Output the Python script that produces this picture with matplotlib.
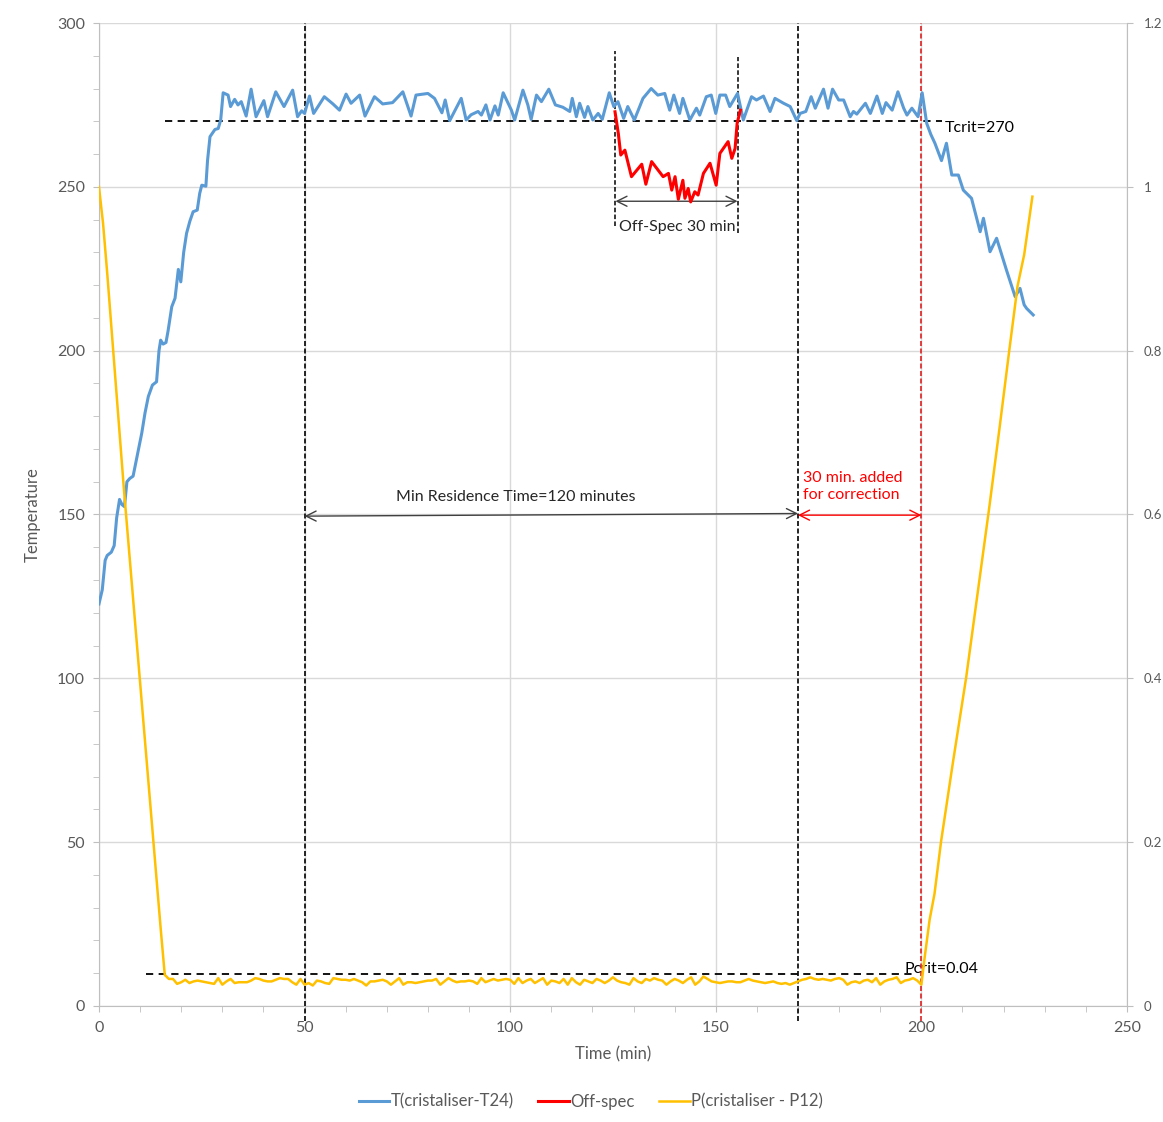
import numpy as np
import matplotlib.pyplot as plt

plt.rcParams['font.family'] = ['Lato', 'DejaVu Sans']

# --- temperature T(cristaliser-T24) (time in min, temp) ---
t_temp = [0, 0.8, 1.5, 2.0, 3.0, 3.7, 4.3, 5.0, 5.6, 6.2, 6.8, 7.5, 8.3, 9.3, 10.4,
          11.2, 12.0, 13.0, 14.0, 14.6, 15.0, 15.6, 16.3, 16.8, 17.7, 18.5, 19.3, 19.9,
          20.6, 21.3, 22.1, 22.9, 23.9, 24.5, 25.0, 26.0, 26.4, 27.0, 28.2, 29.0, 29.6,
          30.2, 31.4, 32.0, 33.0, 33.8, 34.6, 35.8, 37.0, 38.2, 40.1, 41.0, 43.0, 45.0,
          47.1, 48.3, 49.3, 50.0, 51.2, 52.2, 54.8, 56.9, 58.5, 60.1, 61.3, 63.4, 64.7,
          67.0, 69.0, 71.4, 73.9, 75.9, 77.1, 80.0, 81.6, 83.4, 84.2, 85.3, 88.1, 89.3,
          90.5, 92.2, 93.0, 94.1, 95.1, 96.3, 97.1, 98.3, 100.3, 101.1, 103.1, 104.3,
          105.1, 106.4, 107.6, 109.4, 111.0, 112.8, 114.5, 115.1, 116.1, 116.9, 118.1,
          118.9, 120.1, 121.4, 122.4, 124.1, 125.2, 126.2, 127.6, 128.6, 130.2, 132.3,
          134.3, 135.9, 137.6, 138.8, 139.8, 141.2, 142.0, 143.7, 145.3, 146.1, 147.7,
          148.9, 150.0, 151.0, 152.4, 153.4, 155.3, 156.7, 158.7, 159.9, 161.6, 163.2,
          164.4, 166.5, 168.1, 169.7, 170.5, 171.9, 173.2, 174.2, 176.2, 177.3, 178.4,
          179.9, 181.1, 182.7, 183.5, 184.3, 186.4, 187.6, 189.2, 190.5, 191.4, 192.9,
          194.3, 195.7, 196.5, 197.7, 199.2, 200.2, 201.3, 202.3, 203.3, 204.9, 206.1,
          207.4, 209.0, 210.2, 211.4, 212.2, 214.3, 215.1, 216.7, 218.3, 220.7, 222.8,
          224.0, 225.0, 225.6, 227.2]
temp = [122.7, 127, 136, 137.5, 138.5, 140.5, 149, 154.6, 153, 152.4, 160, 161, 161.7,
        168, 174.8, 181, 186, 189.5, 190.5, 200, 203.2, 202, 202.5, 206, 213.4, 216,
        224.8, 221, 230, 235.8, 239.5, 242.4, 242.9, 248, 250.5, 250.2, 258, 265.3,
        267.5, 267.8, 270.4, 278.7, 278, 274.5, 276.7, 275, 276, 271.6, 279.8, 271.4,
        276.3, 271.4, 279, 274.5, 279.5, 271.4, 273.2, 272.4, 277.7, 272.4, 277.5,
        275.3, 273.4, 278.3, 275.5, 278, 271.6, 277.5, 275.3, 275.7, 279, 271.6, 278,
        278.5, 277, 272.6, 276.5, 270.2, 277, 270.4, 272.0, 273, 271.9, 275, 270.4,
        274.7, 271.9, 278.7, 273.4, 270.4, 279.5, 275, 270.6, 278, 276, 279.8, 275,
        274.3, 273, 277, 271.4, 275.5, 271.2, 274.5, 270.4, 272.4, 270.6, 278.7, 274.5,
        276, 270.9, 274.5, 270.4, 277, 280, 278, 278.5, 273.4, 278, 272.4, 277, 270.4,
        274, 271.9, 277.5, 278, 272.4, 278, 278, 274.5, 278.5, 270.4, 277.5, 276.5,
        277.7, 273, 277, 275.5, 274.5, 270.2, 272.4, 273, 277.5, 274, 279.8, 274, 279.8,
        276.5, 276.5, 271.4, 273, 272.2, 275.5, 272.4, 277.7, 272.4, 275.7, 273.4, 279,
        274, 271.9, 274, 271.4, 278.7, 269.4, 266, 263.3, 258, 263.3, 253.6, 253.6, 249,
        247.5, 246.5, 236.3, 240.4, 230.2, 234.3, 224.6, 216.5, 219, 214, 212.9, 210.9]

# --- off-spec part of the temperature ---
t_off = [125.5, 126.3, 126.9, 127.9, 129.5, 132.0, 133.0, 134.4, 137.2, 138.5, 139.3,
         140.1, 140.9, 142.0, 142.5, 143.3, 143.9, 144.9, 145.7, 147.0, 148.6, 150.1,
         151.0, 153.0, 153.9, 154.7, 155.2, 156.0]
temp_off = [272.9, 266.3, 259.7, 261.2, 253.1, 256.9, 250.8, 257.7, 253.1, 254.1, 249,
            253.1, 246.2, 252, 246.5, 249.5, 245.4, 248.5, 247.5, 254.1, 257.2, 250.5,
            260.2, 263.8, 258.7, 261.7, 269.4, 273.4]

# --- pressure P(cristaliser - P12), secondary axis ---
t_pres = list(range(0, 201)) + [200.8, 202.0, 203.2, 204.8, 207.7, 210.9, 213.7,
                                216.5, 219.0, 221.4, 223.4, 225.0, 227.0]
pres = [1.0, 0.955, 0.895, 0.83, 0.765, 0.70, 0.635, 0.575, 0.515, 0.455, 0.395, 0.335,
        0.275, 0.215, 0.155, 0.095, 0.038,
        0.033, 0.033, 0.027, 0.029, 0.032, 0.028, 0.030, 0.031, 0.030, 0.029, 0.028,
        0.027, 0.034, 0.026, 0.030, 0.033, 0.028, 0.029, 0.029, 0.029, 0.031, 0.034,
        0.033, 0.031, 0.030, 0.030, 0.032, 0.034, 0.033, 0.033, 0.029, 0.026, 0.033,
        0.026, 0.028, 0.025, 0.031, 0.030, 0.028, 0.027, 0.034, 0.033, 0.032, 0.032,
        0.031, 0.033, 0.031, 0.029, 0.025, 0.030, 0.030, 0.031, 0.032, 0.030, 0.026,
        0.030, 0.034, 0.026, 0.029, 0.029, 0.028, 0.029, 0.030, 0.031, 0.031, 0.033,
        0.026, 0.030, 0.034, 0.031, 0.029, 0.030, 0.030, 0.031, 0.030, 0.027, 0.034,
        0.029, 0.031, 0.033, 0.031, 0.032, 0.033, 0.032, 0.027, 0.034, 0.028, 0.031,
        0.033, 0.028, 0.031, 0.034, 0.026, 0.031, 0.030, 0.028, 0.033, 0.026, 0.034,
        0.029, 0.026, 0.032, 0.030, 0.028, 0.033, 0.031, 0.028, 0.031, 0.035, 0.031,
        0.029, 0.028, 0.026, 0.034, 0.030, 0.028, 0.033, 0.031, 0.034, 0.032, 0.031,
        0.026, 0.030, 0.033, 0.031, 0.028, 0.032, 0.035, 0.026, 0.030, 0.036, 0.033,
        0.030, 0.029, 0.028, 0.029, 0.030, 0.030, 0.029, 0.029, 0.031, 0.033, 0.031,
        0.030, 0.029, 0.028, 0.029, 0.030, 0.028, 0.027, 0.028, 0.026, 0.028, 0.030,
        0.032, 0.033, 0.035, 0.033, 0.032, 0.033, 0.032, 0.031, 0.033, 0.034, 0.032,
        0.026, 0.029, 0.030, 0.028, 0.031, 0.032, 0.029, 0.034, 0.026, 0.030, 0.032,
        0.033, 0.035, 0.028, 0.031, 0.032, 0.034, 0.031, 0.026,
        0.059, 0.105, 0.137, 0.201, 0.298, 0.401, 0.505, 0.608, 0.705, 0.801, 0.879,
        0.917, 0.988]

x_ticks = [0, 50, 100, 150, 200, 250]
y_ticks = [0, 50, 100, 150, 200, 250, 300]
y2_ticks = [0, 0.2, 0.4, 0.6, 0.8, 1.0, 1.2]
y2_labels = ['0', '0.2', '0.4', '0.6', '0.8', '1', '1.2']

t_crit = 270
p_crit = 0.039

blue = '#5b9bd5'
red = '#ff0000'
yellow = '#ffc000'
axis_grey = '#bfbfbf'
text_grey = '#595959'

fig = plt.figure(figsize=(11.63, 11.22), dpi=100)
ax = fig.add_axes([0.0851, 0.1034, 0.8839, 0.8761])
ax2 = ax.twinx()

ax.set_xlim(0, 250)
ax.set_ylim(0, 300)
ax2.set_ylim(0, 1.2)

# grid
ax.set_xticks(x_ticks)
ax.set_yticks(y_ticks)
ax.set_xticks(np.arange(0, 251, 10), minor=True)
ax.set_yticks(np.arange(0, 301, 10), minor=True)
ax.grid(True, which='major', color='#d9d9d9', lw=1)
ax.set_axisbelow(True)

for a in (ax, ax2):
    a.spines['top'].set_visible(False)
    for s in ('left', 'right', 'bottom'):
        a.spines[s].set_color(axis_grey)
ax.spines['right'].set_visible(False)
ax2.spines['left'].set_visible(False)
ax2.spines['bottom'].set_visible(False)

ax.tick_params(which='both', direction='out', length=4, color=axis_grey,
               labelcolor=text_grey, labelsize=11.5)
ax.tick_params(axis='x', pad=7)
ax.tick_params(axis='y', pad=6)
ax2.set_yticks(y2_ticks)
ax2.set_yticklabels(y2_labels)
ax2.tick_params(direction='out', length=4, color=axis_grey, labelcolor=text_grey,
                labelsize=9.5, pad=8)

# data series
ax.plot(t_temp, temp, color=blue, lw=2.2, zorder=4, label='T(cristaliser-T24)')
ax.plot(t_off, temp_off, color=red, lw=2.2, zorder=5, label='Off-spec')
ax2.plot(t_pres, pres, color=yellow, lw=1.8, zorder=4, label='P(cristaliser - P12)')

# critical limits
ax.plot([16, 205], [t_crit, t_crit], color='black', lw=1.3, ls=(0, (4, 3)), zorder=3)
ax.text(205.7, 268, 'Tcrit=270', fontsize=11.5, color='black', va='center', ha='left')
ax2.plot([11.4, 197.7], [p_crit, p_crit], color='black', lw=1.3, ls=(0, (4, 3)), zorder=3)
ax.text(196, 11.2, 'Pcrit=0.04', fontsize=11.5, color='black', va='center', ha='left',
        zorder=6)

# vertical markers
for xv in (50, 170):
    ax.plot([xv, xv], [-4.5, 300], color='black', lw=1.2, ls=(0, (3, 1.5)),
            clip_on=False, zorder=3)
ax.plot([200, 200], [-4.5, 300], color='#e02020', lw=1.2, ls=(0, (3, 1.5)),
        clip_on=False, zorder=3)
ax.plot([125.5, 125.5], [238, 291.5], color='black', lw=1.1, ls=(0, (3, 1.5)), zorder=3)
ax.plot([155.4, 155.4], [236, 289.5], color='black', lw=1.1, ls=(0, (3, 1.5)), zorder=3)

# arrows
arrow_kw = dict(arrowstyle='<->', color='#404040', lw=1.0, shrinkA=0, shrinkB=0,
                mutation_scale=18)
ax.annotate('', xy=(170, 150.3), xytext=(50, 149.5), arrowprops=arrow_kw)
ax.annotate('', xy=(155.3, 245.6), xytext=(125.6, 245.6), arrowprops=arrow_kw)
ax.annotate('', xy=(200, 149.8), xytext=(170, 149.8),
            arrowprops=dict(arrow_kw, color=red))

ax.text(101.4, 155.3, 'Min Residence Time=120 minutes', fontsize=11.5,
        color='#262626', ha='center', va='center')
ax.text(140.6, 237.6, 'Off-Spec 30 min', fontsize=11.5, color='#262626',
        ha='center', va='center')
ax.text(171.3, 158.5, '30 min. added\nfor correction', fontsize=11.5, color=red,
        ha='left', va='center', linespacing=1.25)

ax.set_xlabel('Time (min)', fontsize=12, color=text_grey, labelpad=8)
ax.set_ylabel('Temperature', fontsize=12, color=text_grey, labelpad=12)

h1, l1 = ax.get_legend_handles_labels()
h2, l2 = ax2.get_legend_handles_labels()
fig.legend(h1 + h2, l1 + l2, loc='center', bbox_to_anchor=(0.508, 0.018), ncol=3,
           frameon=False, fontsize=12, handlelength=1.85, handletextpad=0.05,
           columnspacing=1.5, labelcolor=text_grey)

fig.savefig('out.png', dpi=100)
